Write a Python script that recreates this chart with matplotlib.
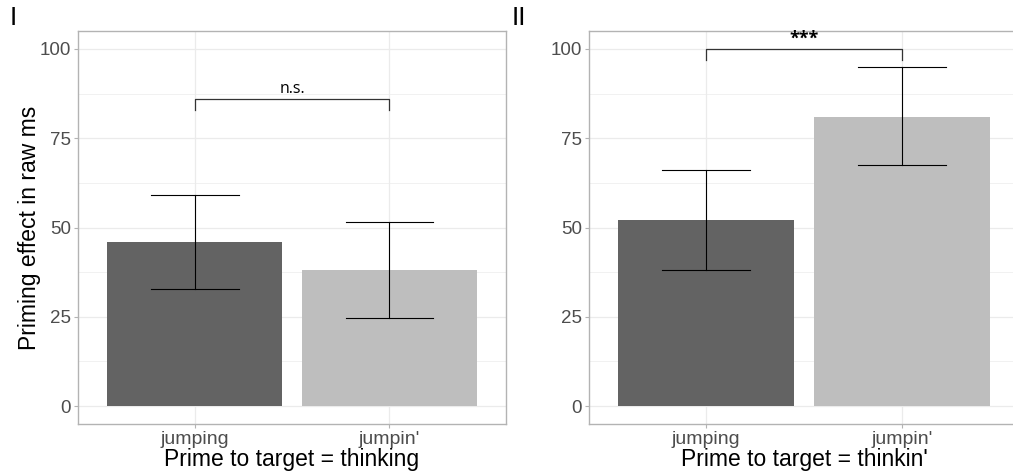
import matplotlib
matplotlib.use("Agg")
import matplotlib.pyplot as plt
from matplotlib.ticker import MultipleLocator

plt.rcParams["font.family"] = ["Liberation Sans", "DejaVu Sans"]

# data
categories = ["jumping", "jumpin'"]
means_I = [46.0, 38.0]
lower_I = [32.9, 24.7]
upper_I = [59.2, 51.4]
means_II = [52.0, 81.0]
lower_II = [38.0, 67.4]
upper_II = [66.0, 94.8]
xlabels = ["Prime to target = thinking", "Prime to target = thinkin'"]
panel_tags = ["I", "II"]
sig_labels = ["n.s.", "***"]
sig_heights = [86.0, 100.0]

bar_colors = ["#636363", "#BEBEBE"]
grid_col = "#EBEBEB"
border_col = "#B3B3B3"
tick_col = "#4D4D4D"

fig = plt.figure(figsize=(10.13, 4.72), dpi=100)
W, H = 1013, 472
# panel II runs past the right edge of the image (border cut off)
boxes = [(78, 31, 506, 424), (589, 31, 1019, 424)]

panels = [(means_I, lower_I, upper_I), (means_II, lower_II, upper_II)]

for i, ((l, t, r, b), (m, lo, hi)) in enumerate(zip(boxes, panels)):
    ax = fig.add_axes([l / W, 1 - b / H, (r - l) / W, (b - t) / H])
    x = [1, 2]
    ax.set_xlim(0.4, 2.6)
    ax.set_ylim(-5, 105)
    ax.yaxis.set_minor_locator(MultipleLocator(12.5))
    ax.set_yticks([0, 25, 50, 75, 100])
    ax.set_xticks(x)
    ax.set_xticklabels(categories)
    ax.grid(True, which="major", color=grid_col, lw=0.9, zorder=0)
    ax.grid(True, which="minor", axis="y", color=grid_col, lw=0.5, zorder=0)
    ax.set_axisbelow(True)
    for s in ax.spines.values():
        s.set_color(border_col)
        s.set_linewidth(1.0)
    ax.tick_params(which="major", colors=border_col, labelcolor=tick_col,
                   labelsize=14, length=3, pad=2)
    ax.tick_params(axis="y", labelsize=13.5)
    ax.tick_params(which="minor", length=0)

    ax.bar(x, m, width=0.9, color=bar_colors, zorder=2)
    for xi, mi, a, c in zip(x, m, lo, hi):
        ax.plot([xi, xi], [a, c], color="black", lw=0.8, zorder=3)
        ax.plot([xi - 0.225, xi + 0.225], [a, a], color="black", lw=0.8, zorder=3)
        ax.plot([xi - 0.225, xi + 0.225], [c, c], color="black", lw=0.8, zorder=3)

    h = sig_heights[i]
    ax.plot([1, 1, 2, 2], [h - 3, h, h, h - 3], color="#333333", lw=0.9, zorder=4)
    if sig_labels[i] == "***":
        ax.text(1.5, h + 0.2, sig_labels[i], ha="center", va="bottom", fontsize=13,
                fontweight="bold", family=["Open Sans", "DejaVu Sans"], color="black")
    else:
        ax.text(1.5, h + 0.6, sig_labels[i], ha="center", va="bottom", fontsize=11.5,
                family=["Open Sans", "DejaVu Sans"], color="black")

    ax.set_xlabel(xlabels[i], fontsize=16.5, labelpad=0, color="black")
    if i == 0:
        ax.set_ylabel("Priming effect in raw ms", fontsize=16.5, color="black")
        ax.yaxis.set_label_coords((41 - l) / (r - l), 0.5)

    tag_x = 10 if i == 0 else 512
    fig.text(tag_x / W, 1 - 30 / H, panel_tags[i], fontsize=19, ha="left",
             va="bottom", color="black")

fig.savefig("out.png", dpi=100)
